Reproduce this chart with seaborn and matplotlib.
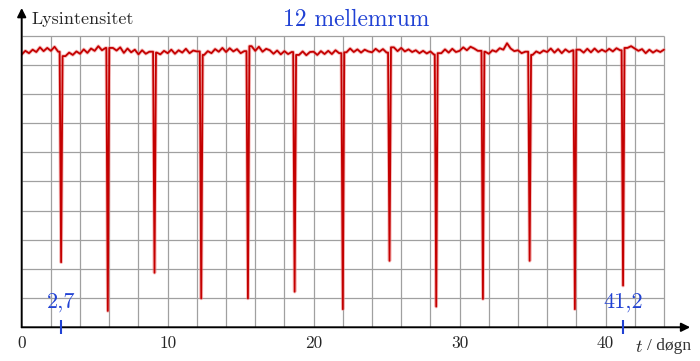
import numpy as np
import pandas as pd
import matplotlib.pyplot as plt
import seaborn as sns

base_step = 0.25
base_flux = [
    9.36, 9.48, 9.40, 9.52,  9.44, 9.60, 9.47, 9.58,  9.48, 9.62, 9.45, 9.50,
    9.30, 9.42, 9.34, 9.46,  9.38, 9.53, 9.41, 9.56,  9.48, 9.64, 9.50, 9.58,
    9.44, 9.58, 9.49, 9.60,  9.41, 9.56, 9.43, 9.52,  9.36, 9.50, 9.38, 9.45,
    9.33, 9.42, 9.36, 9.48,  9.40, 9.52, 9.38, 9.50,  9.42, 9.55, 9.40, 9.49,
    9.46, 9.36, 9.34, 9.47,  9.40, 9.54, 9.45, 9.58,  9.44, 9.57, 9.46, 9.54,
    9.40, 9.47, 9.52, 9.64,  9.48, 9.62, 9.45, 9.55,  9.50, 9.38, 9.49, 9.36,
    9.47, 9.37, 9.44, 9.32,  9.34, 9.46, 9.33, 9.44,  9.45, 9.34, 9.47, 9.37,
    9.48, 9.37, 9.50, 9.40,  9.54, 9.43, 9.56, 9.44,  9.53, 9.42, 9.52, 9.46,
    9.43, 9.55, 9.45, 9.54,  9.42, 9.56, 9.60, 9.47,  9.58, 9.46, 9.53, 9.44,
    9.50, 9.40, 9.48, 9.39,  9.46, 9.35, 9.50, 9.40,  9.53, 9.42, 9.55, 9.44,
    9.48, 9.60, 9.50, 9.62,  9.56, 9.48, 9.33, 9.45,  9.38, 9.50, 9.45, 9.57,
    9.52, 9.74, 9.56, 9.47,  9.50, 9.40, 9.45, 9.35,  9.34, 9.46, 9.40, 9.49,
    9.44, 9.56, 9.42, 9.54,  9.40, 9.53, 9.44, 9.50,  9.40, 9.52, 9.42, 9.55,
    9.43, 9.56, 9.44, 9.52,  9.45, 9.55, 9.46, 9.57,  9.50, 9.44, 9.58, 9.64,
    9.56, 9.48, 9.54, 9.40,  9.52, 9.42, 9.50, 9.44,  9.52,
]
# transits (time in days, lowest value)
dip_t = [2.7, 5.9, 9.1, 12.3, 15.5, 18.7, 22.0, 25.2, 28.4, 31.6, 34.8, 37.9, 41.2]
dip_depth = [2.23, 0.56, 1.87, 0.99, 0.99, 1.22, 0.62, 2.28, 0.71, 0.97, 2.28, 0.62, 1.43]

marked_t = [2.7, 41.2]
marked_labels = ['2,7', '41,2']
x_ticks = [0, 10, 20, 30, 40]

sns.set_style('white')
plt.rcParams['font.family'] = ['cmr10', 'DejaVu Serif']
plt.rcParams['mathtext.fontset'] = 'cm'
plt.rcParams['axes.formatter.use_mathtext'] = True

t_base = np.arange(len(base_flux)) * base_step
flux_base = np.array(base_flux)
dips = np.array(dip_t)
keep = np.array([np.min(np.abs(dips - t)) > 0.14 for t in t_base])
rows = list(zip(t_base[keep], flux_base[keep]))
for t, d in zip(dip_t, dip_depth):
    i = int(round(t / base_step))
    rows += [(t - 0.1, flux_base[max(i - 1, 0)]), (t, d),
             (t + 0.1, flux_base[min(i + 1, len(flux_base) - 1)])]
df = pd.DataFrame(rows, columns=['t', 'flux']).sort_values('t')

blue = '#2142d4'
fig = plt.figure(figsize=(7, 3.61), dpi=100)
ax = fig.add_axes([0.031, 0.0934, 0.955, 0.8845])
ax.set_xlim(0, 45.8)
ax.set_ylim(0, 10.95)

# grid
ax.vlines(np.arange(2, 45, 2), 0, 10, color='#a0a0a0', lw=0.9, zorder=0)
ax.hlines(np.arange(1, 11), 0, 44, color='#a0a0a0', lw=0.9, zorder=0)

sns.lineplot(data=df, x='t', y='flux', ax=ax, estimator=None, sort=False,
             color='#f08080', lw=2.6, alpha=0.5)
sns.lineplot(data=df, x='t', y='flux', ax=ax, estimator=None, sort=False,
             color='#c40000', lw=1.3)

for s in ax.spines.values():
    s.set_visible(False)
ax.annotate('', xy=(45.8, 0), xytext=(0, 0), annotation_clip=False,
            arrowprops=dict(arrowstyle='-|>', color='black', lw=1.4, mutation_scale=13, shrinkA=0, shrinkB=0))
ax.annotate('', xy=(0, 10.95), xytext=(0, 0), annotation_clip=False,
            arrowprops=dict(arrowstyle='-|>', color='black', lw=1.4, mutation_scale=13, shrinkA=0, shrinkB=0))

ax.set_xticks(x_ticks)
ax.set_xticklabels([str(v) for v in x_ticks], fontsize=12.5)
ax.set_yticks([])
ax.tick_params(axis='x', length=0, pad=6)
ax.set_xlabel('')
ax.set_ylabel('')

ax.text(0.7, 10.57, 'Lysintensitet', fontsize=13, ha='left', va='center')
ax.text(42.05, -0.68, '$t$', fontsize=13, ha='left', va='center', clip_on=False)
ax.text(45.85, -0.64, '/ døgn', fontsize=12.5, family='Liberation Serif',
        color='#333333', ha='right', va='center', clip_on=False)
ax.text(22.9, 10.54, '12 mellemrum', fontsize=17, color=blue, ha='center', va='center')

for t, lab in zip(marked_t, marked_labels):
    ax.vlines(t, -0.22, 0.25, color=blue, lw=1.5, clip_on=False, zorder=5)
    ax.text(t, 0.86, lab, fontsize=16, color=blue, ha='center', va='center')

fig.savefig('out.png', dpi=100)
